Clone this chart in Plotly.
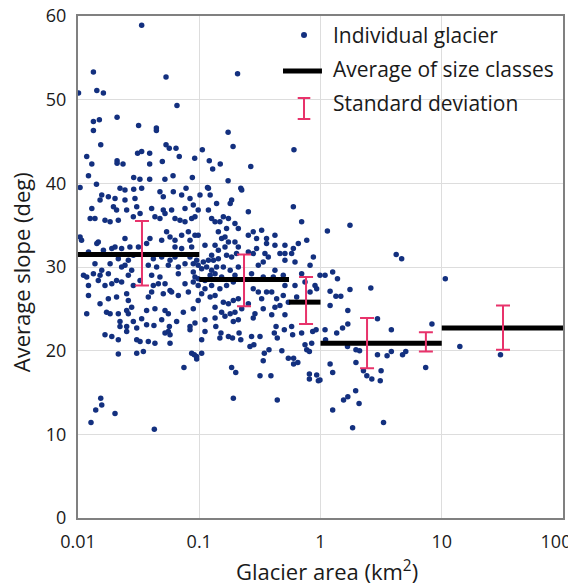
import plotly.graph_objects as go

# individual glaciers: area (km2) and average slope (deg)
glacier_area = [
    0.0335, 0.0134, 0.0532, 0.207, 0.0101, 0.0143, 0.0162, 0.0655, 0.0134, 0.0150,
    0.0210, 0.0134, 0.0316, 0.0443, 0.0443, 0.173, 0.0154, 0.0532, 0.0566, 0.0643,
    0.190, 0.604, 0.0118, 0.0310, 0.0335, 0.0390, 0.0684, 0.106, 0.0496, 0.0210,
    0.0210, 0.0235, 0.0130, 0.0390, 0.0917, 0.121, 0.129, 0.149, 0.266, 0.173,
    0.0122, 0.0142, 0.0288, 0.0324, 0.0390, 0.0521, 0.0608, 0.0877, 0.0104, 0.0222,
    0.0288, 0.0335, 0.0778, 0.117, 0.220,
    # 0.01 - 0.1, 23-39 deg
    0.0244, 0.0474, 0.0611, 0.0157, 0.0178, 0.0202, 0.0244, 0.0295, 0.0505, 0.0716,
    0.0839, 0.0152, 0.0130, 0.0196, 0.0208, 0.0252, 0.0305, 0.0325, 0.0405, 0.0505,
    0.0592, 0.0763, 0.0893, 0.0126, 0.0138, 0.0167, 0.0184, 0.0215, 0.0286, 0.0431,
    0.0474, 0.0522, 0.0631, 0.0694, 0.0763, 0.0866, 0.0922, 0.0104, 0.0107, 0.0143,
    0.0147, 0.0190, 0.0202, 0.0229, 0.0244, 0.0268, 0.0315, 0.0368, 0.0392, 0.0490,
    0.0538, 0.0574, 0.0631, 0.0716, 0.0813, 0.0839, 0.0922, 0.0631, 0.0716, 0.0866,
    0.0122, 0.0162, 0.0215, 0.0260, 0.0286, 0.0418, 0.0490, 0.0574, 0.0631, 0.0839,
    0.0952, 0.0138, 0.0157, 0.0184, 0.0229, 0.0244, 0.0277, 0.0380, 0.0445, 0.0556,
    0.0672, 0.0763, 0.0893, 0.0111, 0.0118, 0.0134, 0.0152, 0.0178, 0.0260, 0.0325,
    0.0405, 0.0474, 0.0672, 0.0893, 0.0922, 0.0122, 0.0147, 0.0167, 0.0190, 0.0208,
    0.0229, 0.0286, 0.0418, 0.0460, 0.0522, 0.0574, 0.0763, 0.0893, 0.0122, 0.0152,
    0.0178, 0.0208, 0.0252, 0.0260, 0.0380, 0.0405, 0.0505, 0.0592, 0.0672, 0.0813,
    0.0172, 0.0184, 0.0215, 0.0252, 0.0260, 0.0277, 0.0368, 0.0431, 0.0522, 0.0556,
    0.0739, 0.0893, 0.0118, 0.0222, 0.0286, 0.0335, 0.0368, 0.0490, 0.0651, 0.0839,
    0.0922, 0.0252, 0.0305,
    # 0.01 - 0.1, below 23 deg
    0.0222, 0.0252, 0.0167, 0.0190, 0.0215, 0.0305, 0.0325, 0.0380, 0.0431, 0.0522,
    0.0556, 0.0574, 0.0574, 0.0839, 0.0423, 0.0567, 0.0215, 0.0305, 0.0346, 0.0866,
    0.0910, 0.0952, 0.0748, 0.0154, 0.0157, 0.0140, 0.0202, 0.0128, 0.0426,
    # 0.1 - 1, 23-39 deg
    0.1014, 0.119, 0.123, 0.139, 0.180, 0.185, 0.224, 0.254, 0.098, 0.119,
    0.1265, 0.135, 0.148, 0.158, 0.174, 0.197, 0.168, 0.210, 0.254, 0.279,
    0.297, 0.327, 0.359, 0.421, 0.597, 0.699, 0.098, 0.1115, 0.1437, 0.153,
    0.163, 0.174, 0.197, 0.135, 0.1437, 0.163, 0.210, 0.297, 0.359, 0.421,
    0.509, 0.597, 0.656, 0.770, 0.1265, 0.108, 0.119, 0.131, 0.1437, 0.168,
    0.185, 0.203, 0.254, 0.279, 0.348, 0.371, 0.463, 0.509, 0.578, 0.616,
    0.873, 0.098, 0.1047, 0.115, 0.1265, 0.139, 0.158, 0.180, 0.210, 0.307,
    0.337, 0.421, 0.509, 0.820, 0.098, 0.1115, 0.123, 0.135, 0.153, 0.197,
    0.270, 0.337, 0.408, 0.493, 0.699, 0.990, 0.098, 0.1115, 0.1265, 0.148,
    0.168, 0.191, 0.279, 0.307, 0.359, 0.396, 0.509, 0.616, 0.745, 0.901,
    0.930, 0.1047, 0.123, 0.135, 0.158, 0.174, 0.191, 0.210, 0.254, 0.327,
    0.435, 0.493, 0.543, 0.636, 0.820, 0.098, 0.135, 0.153, 0.180, 0.197,
    0.224, 0.288, 0.337, 0.421, 0.463, 0.1115, 0.135, 0.163, 0.210, 0.279,
    0.396, 0.509, 0.191,
    # 0.1 - 1, below 23 deg
    0.1115, 0.1047, 0.1047, 0.095, 0.137, 0.151, 0.148, 0.174, 0.188, 0.213,
    0.220, 0.270, 0.317, 0.262, 0.282, 0.344, 0.376, 0.337, 0.416, 0.440,
    0.503, 0.589, 0.699, 0.862, 0.480, 0.543, 0.600, 0.600, 0.650, 0.745,
    0.770, 0.810, 0.846, 0.920, 0.430, 0.578, 0.185, 0.200, 0.317, 0.390,
    0.810, 0.810, 0.930, 0.960, 0.191, 0.440,
    # above 1 km2
    1.14, 1.75, 4.21, 4.67, 1.09, 1.26, 1.38, 1.20, 1.34, 1.47,
    1.75, 2.60, 1.20, 1.68, 2.95, 1.09, 1.36, 1.52, 1.68, 3.84,
    8.30, 1.10, 1.67, 1.96, 2.10, 2.95, 3.54, 3.84, 4.75, 5.05,
    14.1, 30.5, 1.20, 1.26, 1.96, 2.26, 2.41, 2.65, 3.16, 3.11,
    7.37, 10.7, 1.95, 1.68, 1.55, 2.08, 1.26, 3.31, 1.84, 0.99,
]
glacier_slope = [
    58.9, 53.3, 52.7, 53.1, 50.8, 51.1, 50.8, 49.3, 47.4, 47.6,
    47.9, 46.3, 46.9, 46.6, 46.3, 46.1, 44.6, 44.6, 44.2, 44.2,
    44.4, 44.0, 43.2, 43.6, 43.8, 43.6, 43.2, 44.0, 42.6, 42.7,
    42.4, 42.3, 42.3, 42.3, 43.0, 42.7, 41.7, 42.3, 42.0, 40.3,
    40.9, 39.9, 40.7, 40.5, 40.5, 40.5, 40.9, 40.7, 39.5, 39.4,
    39.3, 39.4, 39.4, 39.5, 39.4,
    39.2, 39.0, 39.0, 38.6, 38.4, 38.2, 38.0, 38.2, 38.4, 38.6,
    38.2, 38.0, 37.0, 37.2, 36.8, 36.8, 37.2, 36.4, 37.0, 36.8,
    36.8, 37.0, 37.4, 35.8, 35.8, 35.6, 35.4, 35.6, 36.0, 36.0,
    35.8, 36.4, 35.8, 35.6, 35.4, 35.8, 36.0, 33.6, 33.2, 32.8,
    33.0, 32.2, 32.4, 32.2, 33.4, 32.4, 32.4, 32.8, 33.4, 33.2,
    34.2, 33.6, 33.2, 33.8, 34.2, 33.2, 33.8, 32.4, 32.2, 32.4,
    31.8, 32.0, 31.0, 30.8, 31.4, 31.0, 31.2, 30.8, 31.2, 31.2,
    30.8, 30.4, 29.6, 30.4, 30.0, 30.2, 29.6, 30.2, 30.0, 30.2,
    30.0, 30.4, 30.4, 29.0, 28.8, 29.2, 29.0, 29.2, 29.0, 28.4,
    29.0, 28.8, 29.2, 29.4, 28.8, 27.8, 28.4, 27.8, 28.0, 28.4,
    28.2, 27.8, 27.8, 28.0, 28.0, 27.2, 28.0, 28.2, 26.6, 25.6,
    26.2, 26.4, 26.8, 26.0, 26.4, 27.0, 26.8, 27.0, 26.6, 27.0,
    24.6, 24.4, 24.4, 24.8, 24.4, 25.2, 24.8, 25.0, 24.8, 24.4,
    24.6, 25.0, 24.4, 23.5, 23.5, 23.8, 23.1, 23.7, 23.5, 22.9,
    23.3, 22.9, 22.7,
    22.9, 22.3, 21.9, 21.7, 21.3, 21.3, 21.1, 21.1, 20.9, 22.1,
    22.3, 21.9, 20.9, 22.5, 23.0, 22.9, 19.6, 19.7, 19.9, 19.7,
    19.5, 19.0, 18.0, 14.3, 13.5, 12.9, 12.5, 11.4, 10.6,
    38.6, 39.4, 38.6, 37.6, 37.6, 38.0, 39.2, 36.6, 36.8, 36.8,
    35.8, 35.4, 35.4, 36.0, 35.8, 35.2, 34.6, 34.6, 33.8, 34.2,
    33.4, 34.4, 33.4, 33.8, 37.2, 35.4, 33.8, 32.6, 34.2, 33.4,
    33.6, 33.0, 33.0, 32.6, 32.0, 32.4, 32.4, 32.2, 32.8, 32.6,
    32.6, 32.2, 32.8, 33.2, 31.4, 30.6, 30.8, 30.8, 31.0, 31.4,
    31.2, 31.6, 31.8, 31.6, 31.6, 31.2, 31.6, 31.6, 31.6, 30.6,
    31.2, 30.2, 29.8, 30.0, 29.6, 30.0, 30.0, 29.6, 30.0, 30.2,
    30.6, 29.6, 30.8, 30.2, 28.6, 28.4, 29.0, 29.2, 28.8, 29.0,
    29.2, 28.8, 28.8, 29.0, 29.2, 29.0, 27.8, 27.4, 27.8, 27.4,
    27.8, 28.2, 27.4, 27.0, 27.0, 27.0, 27.8, 27.8, 28.2, 27.8,
    27.4, 26.8, 26.4, 26.6, 25.8, 25.6, 26.0, 26.2, 25.6, 26.2,
    26.2, 26.6, 25.8, 26.4, 27.0, 26.0, 25.2, 24.6, 24.4, 24.6,
    25.0, 24.4, 25.0, 25.2, 25.4, 23.7, 23.9, 24.1, 23.7, 23.9,
    24.3, 24.3, 23.5,
    22.3, 21.3, 19.7, 19.3, 22.9, 22.1, 21.5, 21.7, 21.5, 22.1,
    21.3, 21.7, 21.7, 20.5, 20.7, 19.7, 20.1, 18.8, 22.1, 21.5,
    22.5, 21.9, 22.1, 22.3, 20.0, 19.1, 19.1, 18.4, 18.6, 20.7,
    20.1, 19.9, 20.9, 22.5, 22.9, 22.9, 18.0, 17.4, 17.0, 17.0,
    17.2, 16.6, 17.1, 16.4, 14.3, 14.1,
    34.3, 35.0, 31.5, 31.0, 29.0, 29.4, 28.6, 27.1, 26.5, 26.5,
    27.3, 27.5, 25.4, 24.8, 23.8, 22.5, 22.1, 22.7, 23.2, 22.5,
    23.2, 21.3, 20.5, 20.1, 20.0, 19.5, 19.4, 19.9, 19.5, 19.9,
    20.5, 19.5, 18.4, 17.4, 18.6, 17.6, 17.0, 16.6, 17.6, 16.4,
    18.0, 28.6, 15.2, 14.5, 14.1, 13.7, 12.9, 11.4, 10.8, 16.5,
]

# size class averages
class_lo = [0.01, 0.1, 0.55, 1, 10]
class_hi = [0.1, 0.55, 1, 10, 100]
class_mean = [31.5, 28.5, 25.8, 20.9, 22.7]

# standard deviation bars
sd_area = [0.0337, 0.234, 0.76, 2.42, 7.4, 32.0]
sd_top = [35.5, 31.5, 28.8, 23.9, 22.2, 25.4]
sd_bottom = [27.8, 25.3, 23.2, 17.9, 19.9, 20.1]

x_ticks = [0.01, 0.1, 1, 10, 100]
x_tick_text = ["0.01", "0.1", "1", "10", "100&nbsp;&nbsp;&nbsp;"]

blue = "#13307f"
red = "#e8336b"
font = "Open Sans"

fig = go.Figure()

fig.add_trace(go.Scatter(x=glacier_area, y=glacier_slope, mode="markers",
                         marker=dict(color=blue, size=5.5), showlegend=False))

line_x, line_y = [], []
for lo, hi, m in zip(class_lo, class_hi, class_mean):
    line_x += [lo, hi, None]
    line_y += [m, m, None]
fig.add_trace(go.Scatter(x=line_x, y=line_y, mode="lines",
                         line=dict(color="black", width=5), showlegend=False))

mid = [(t + b) / 2 for t, b in zip(sd_top, sd_bottom)]
half = [(t - b) / 2 for t, b in zip(sd_top, sd_bottom)]
fig.add_trace(go.Scatter(x=sd_area, y=mid, mode="markers",
                         marker=dict(size=1, opacity=0),
                         error_y=dict(type="data", array=half, color=red,
                                      thickness=2, width=7),
                         showlegend=False))

# hand made legend
lx = 0.466
fig.add_shape(type="circle", xref="paper", yref="paper", xsizemode="pixel", ysizemode="pixel",
              xanchor=lx, yanchor=0.962, x0=-3, x1=3, y0=-3, y1=3,
              fillcolor=blue, line=dict(width=0))
fig.add_shape(type="line", xref="paper", yref="paper", x0=0.4227, x1=0.503, y0=0.8904, y1=0.8904,
              line=dict(color="black", width=5))
for yy in [0.8367, 0.7948]:
    fig.add_shape(type="line", xref="paper", yref="paper", x0=lx - 0.013, x1=lx + 0.013,
                  y0=yy, y1=yy, line=dict(color=red, width=2))
fig.add_shape(type="line", xref="paper", yref="paper", x0=lx, x1=lx, y0=0.7948, y1=0.8367,
              line=dict(color=red, width=2))
for txt, yy in [("Individual glacier", 0.962), ("Average of size classes", 0.894),
                ("Standard deviation", 0.826)]:
    fig.add_annotation(text=txt, x=0.5216, y=yy, xref="paper", yref="paper",
                       xanchor="left", yanchor="middle", showarrow=False,
                       font=dict(family=font, size=21, color="#1a1a1a"))

fig.add_annotation(text="Average slope (deg)", x=-0.117, y=0.49, xref="paper", yref="paper",
                   xanchor="center", yanchor="middle",
                   textangle=-90, showarrow=False, font=dict(family=font, size=22, color="#1a1a1a"))
fig.add_annotation(text="Glacier area (km<sup>2</sup>)", x=0.514, y=-0.104, xref="paper", yref="paper",
                   xanchor="center", yanchor="middle",
                   showarrow=False, font=dict(family=font, size=22, color="#1a1a1a"))

fig.update_layout(width=568, height=587, margin=dict(l=78, r=5, t=16, b=69),
                  plot_bgcolor="white", paper_bgcolor="white", showlegend=False)
fig.update_xaxes(type="log", range=[-2, 2], tickvals=x_ticks, ticktext=x_tick_text,
                 automargin=False, ticklabeloverflow="allow", ticklabelstandoff=6,
                 showgrid=True, gridcolor="#dddddd", gridwidth=1, zeroline=False,
                 showline=True, linecolor="#808080", linewidth=2, mirror=True,
                 ticks="", tickfont=dict(family=font, size=18, color="#1a1a1a"))
fig.update_yaxes(range=[0, 60], dtick=10, automargin=False, ticklabelstandoff=6,
                 showgrid=True, gridcolor="#dddddd", gridwidth=1, zeroline=False,
                 showline=True, linecolor="#808080", linewidth=2, mirror=True,
                 ticks="", tickfont=dict(family=font, size=18, color="#1a1a1a"))

fig.write_html("out.html", config={"displayModeBar": False},
               post_script="document.body.style.margin='0';")
